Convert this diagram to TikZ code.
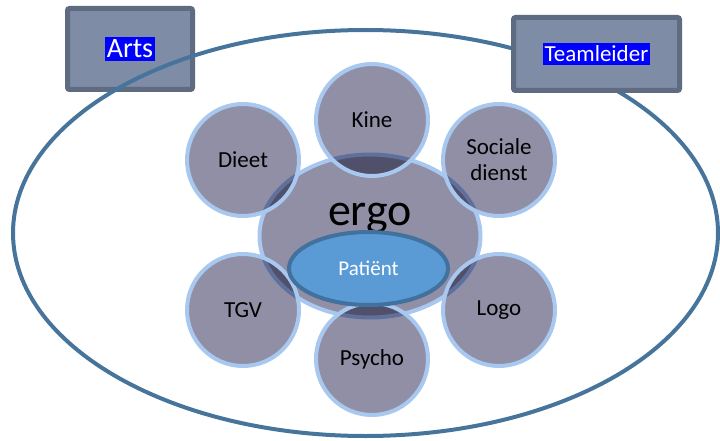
\documentclass[tikz,border=0pt]{standalone}
\usepackage{fontspec}
\setmainfont{Carlito}
\usetikzlibrary{shapes.geometric}

\definecolor{boxfill}{RGB}{127,140,166}
\definecolor{boxline}{RGB}{95,107,128}
\definecolor{ringline}{RGB}{70,116,155}
\definecolor{discfill}{RGB}{144,143,165}
\definecolor{discline}{RGB}{168,200,240}
\definecolor{patfill}{RGB}{91,155,213}
\definecolor{patline}{RGB}{65,113,156}

\begin{document}
\begin{tikzpicture}[x=1pt,y=-1pt,
  role box/.style={rectangle,draw=boxline,fill=boxfill,line width=5pt,rounded corners=2pt,inner sep=0pt},
  role label/.style={fill=blue,text=white,inner xsep=2pt,inner ysep=3pt},
  disc node/.style={circle,fill=discfill,minimum size=112pt,inner sep=0pt,align=center,
    font=\fontsize{23}{26}\selectfont,blend mode=multiply,
    postaction={draw=discline,line width=4pt,blend mode=normal}}]
  \useasboundingbox (0,0) rectangle (720,441);

  % artsen en teamleider
  \node[role box,minimum width=125pt,minimum height=81pt] (artsbox) at (130,49) {};
  \node[role label,font=\fontsize{28}{30}\selectfont] (arts) at (artsbox) {Arts};
  \node[ellipse,draw=ringline,line width=4pt,minimum width=705pt,minimum height=406pt] (team) at (365.5,233) {};
  \node[role box,minimum width=166pt,minimum height=73pt] (leiderbox) at (596.5,54) {};
  \node[role label,font=\fontsize{23}{26}\selectfont] (leider) at (leiderbox) {Teamleider};

  % kern
  \node[ellipse,draw=discline,fill=discfill,line width=4pt,minimum width=221pt,minimum height=163pt] (ergo) at (370,236) {};
  \node[font=\fontsize{46}{50}\selectfont] (ergotxt) at (370,218) {ergo};

  % disciplines
  \node[disc node] (kine) at (372,120) {Kine};
  \node[disc node] (sociaal) at (499,160) {Sociale\\dienst};
  \node[disc node] (dieet) at (243,160) {Dieet};
  \node[disc node] (tgv) at (243,310) {TGV};
  \node[disc node] (logo) at (499,310) {Logo};
  \node[disc node] (psycho) at (372,359) {Psycho};

  \node[ellipse,draw=patline,fill=patfill,line width=4pt,minimum width=159pt,minimum height=73pt,
    text=white,font=\fontsize{21}{24}\selectfont] (patient) at (368.5,268.5) {Patiënt};
\end{tikzpicture}
\end{document}
